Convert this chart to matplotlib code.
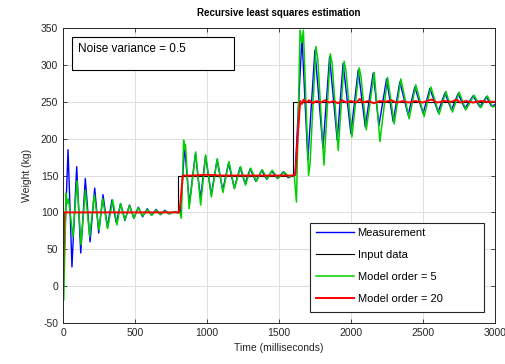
import matplotlib
matplotlib.use("Agg")
import matplotlib.pyplot as plt
from matplotlib.patches import Rectangle

plt.rcParams["font.family"] = ["Liberation Sans", "DejaVu Sans"]
plt.rcParams["axes.unicode_minus"] = False

# input steps (ms, kg)
input_t = [0, 0, 800, 800, 1600, 1600, 3000]
input_v = [0, 100, 100, 150, 150, 250, 250]

# measured weight, turning points of the oscillation (ms, kg)
meas_t = [0, 35, 62, 95, 123, 155, 188, 220, 248, 278, 308, 340, 370, 400, 430,
          462, 492, 523, 553, 585, 615, 647, 677, 708, 738, 770, 800,
          815, 845, 878, 920, 955, 990, 1030, 1070, 1110, 1150, 1190, 1230, 1265,
          1300, 1340, 1380, 1415, 1450, 1490, 1530, 1565, 1600,
          1612, 1660, 1701, 1750, 1806, 1852, 1905, 1946, 2000, 2051, 2100, 2155,
          2195, 2248, 2294, 2340, 2398, 2444, 2502, 2549, 2606, 2653, 2699, 2745,
          2792, 2849, 2896, 2942, 2977, 3000]
meas_v = [0, 185, 26, 162, 45, 146, 60, 133, 72, 124, 80, 117, 86, 112, 89,
          110, 92, 107, 94, 105, 96, 104, 97, 103, 98, 101, 100,
          100, 189, 112, 180, 119, 176, 124, 171, 130, 167, 133, 161, 139,
          159, 142, 157, 145, 156, 146, 155, 147, 150,
          150, 338, 171, 320, 187, 311, 198, 302, 207, 293, 216, 289,
          218, 281, 223, 277, 232, 270, 234, 268, 236, 262, 239, 261,
          241, 258, 243, 257, 244, 246]

# model order 5 estimate
ord5_t = [0, 5, 21, 30, 38, 69, 97, 125, 155, 185, 217, 250, 275, 310, 345, 375,
          400, 430, 462, 492, 523, 553, 585, 615, 647, 677, 708, 738, 770, 800,
          812, 822, 838, 844, 851, 876, 922, 956, 991, 1031, 1072, 1111, 1153,
          1191, 1234, 1268, 1304, 1343, 1385, 1418, 1454, 1494, 1535, 1571, 1600,
          1608, 1622, 1647, 1659, 1670, 1706, 1716, 1757, 1770, 1813, 1857, 1870,
          1912, 1953, 1966, 2007, 2058, 2070, 2107, 2162, 2202, 2255, 2301, 2347,
          2405, 2451, 2509, 2556, 2613, 2660, 2706, 2752, 2799, 2856, 2903, 2949,
          2984, 3000]
ord5_v = [-20, -19, 126, 112, 118, 67, 143, 56, 130, 67, 124, 76, 119, 78, 117, 83,
          112, 90, 109, 92, 106, 95, 104, 96, 103, 97, 102, 98, 101, 99,
          100, 92, 198, 185, 192, 105, 182, 110, 178, 121, 173, 127, 169,
          132, 162, 137, 160, 142, 158, 145, 157, 146, 155, 148, 151,
          147, 114, 347, 330, 347, 150, 165, 325, 308, 164, 315, 302,
          184, 305, 292, 202, 296, 284, 212, 290, 196, 283, 220, 281,
          227, 273, 230, 270, 233, 264, 236, 263, 239, 259, 242, 258,
          243, 244]

# model order 20 estimate
ord20_t = [0, 8, 805, 815, 832, 900, 1000, 1100, 1200, 1300, 1400, 1500, 1600,
           1615, 1630, 1648, 1660, 1672, 1690, 1710, 1735, 1760, 1790, 1820, 1850,
           1880, 1910, 1940, 1970, 2000, 2040, 2062, 2080, 2120, 2160, 2200, 2240,
           2280, 2320, 2360, 2400, 2450, 2500, 2560, 2600, 2650, 2700, 2734, 2760,
           2800, 2850, 2900, 2950, 3000]
ord20_v = [0, 100, 100, 112, 150, 150, 151, 150, 150, 150, 150, 150, 150,
           152, 200, 251, 247, 253, 249, 252, 248, 251, 249, 252, 249,
           251, 248, 252, 249, 251, 249, 254, 249, 251, 248, 251, 250,
           252, 249, 251, 249, 251, 249, 253, 249, 251, 250, 253, 249,
           251, 249, 251, 250, 250]

fig = plt.figure(figsize=(5.05, 3.64), dpi=100)
ax = fig.add_axes([0.1248, 0.1126, 0.855, 0.8104])

ax.plot(meas_t, meas_v, color="#0000ff", lw=1.0, label="Measurement")
ax.plot(input_t, input_v, color="black", lw=0.8, label="Input data")
ax.plot(ord5_t, ord5_v, color="#00d000", lw=1.1, label="Model order = 5")
ax.plot(ord20_t, ord20_v, color="#ff0000", lw=1.4, label="Model order = 20")

ax.set_xlim(0, 3000)
ax.set_ylim(-50, 350)
ax.set_xticks(range(0, 3001, 500))
ax.set_yticks(range(-50, 351, 50))
ax.grid(True, color="#dedede", lw=0.7)
ax.set_axisbelow(True)
ax.tick_params(direction="in", length=3, width=0.6, top=True, right=True,
               labelsize=7.5, labelcolor="#262626", color="#262626")
for s in ax.spines.values():
    s.set_color("#262626")
    s.set_linewidth(0.7)

ax.set_title("Recursive least squares estimation", fontsize=7, fontweight="bold", pad=9)
ax.set_xlabel("Time (milliseconds)", fontsize=7.5, color="#262626")
ax.set_ylabel("Weight (kg)", fontsize=7.5, color="#262626", labelpad=6)

# annotation box
ax.add_patch(Rectangle((0.0208, 0.8576), 0.375, 0.112, transform=ax.transAxes,
                       fill=True, facecolor="white", edgecolor="black", lw=0.8, zorder=5))
ax.text(0.0347, 0.929, "Noise variance = 0.5", transform=ax.transAxes,
        fontsize=8.5, va="center", ha="left", zorder=6)

# legend with a wide frame
ax.add_patch(Rectangle((0.573, 0.036), 0.402, 0.302, transform=ax.transAxes,
                       facecolor="white", edgecolor="#262626", lw=0.8, zorder=5))
leg = ax.legend(loc="upper left", bbox_to_anchor=(0.578, 0.335), frameon=False,
                fontsize=8, handlelength=3.4, handletextpad=0.35,
                labelspacing=1.1, borderpad=0.3, borderaxespad=0)
leg.set_zorder(6)

fig.savefig("out.png", dpi=100)
